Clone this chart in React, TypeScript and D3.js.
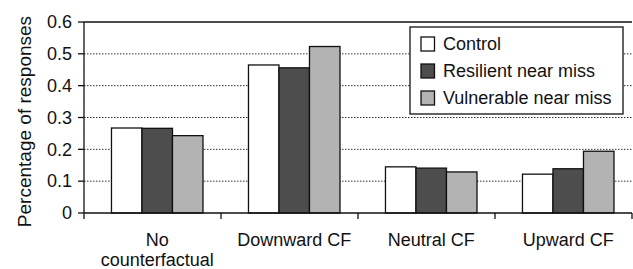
import { useMemo } from 'react';
import * as d3 from 'd3';

const categories = ['No counterfactual', 'Downward CF', 'Neutral CF', 'Upward CF'];
const categoryLines = [['No', 'counterfactual'], ['Downward CF'], ['Neutral CF'], ['Upward CF']];
const seriesNames = ['Control', 'Resilient near miss', 'Vulnerable near miss'];
const seriesColors = ['#ffffff', '#4d4d4d', '#b3b3b3'];

const control = [0.267, 0.465, 0.145, 0.122];
const resilient = [0.266, 0.456, 0.141, 0.139];
const vulnerable = [0.243, 0.523, 0.129, 0.194];
const seriesValues = [control, resilient, vulnerable];

const yTicks = [0, 0.1, 0.2, 0.3, 0.4, 0.5, 0.6];

const WIDTH = 633;
const HEIGHT = 269;
const margin = { top: 22, right: 1, bottom: 56, left: 84 };
const FONT = '"Liberation Sans", Arial, Helvetica, sans-serif';

export default function App() {
  const innerW = WIDTH - margin.left - margin.right;
  const innerH = HEIGHT - margin.top - margin.bottom;

  const { x, xGroup, xSeries, y } = useMemo(() => {
    const x = d3.scaleBand().domain(categories).range([0, innerW]).padding(0);
    const xGroup = d3
      .scaleBand()
      .domain(categories)
      .range([0, innerW])
      .paddingInner(0.332)
      .paddingOuter(0.166)
      .align(0.604);
    const xSeries = d3.scaleBand().domain(seriesNames).range([0, xGroup.bandwidth()]);
    const y = d3.scaleLinear().domain([0, 0.6]).range([innerH, 0]);
    return { x, xGroup, xSeries, y };
  }, [innerW, innerH]);

  const boundaries = categories.map((c) => x(c) as number).concat([innerW]);

  return (
    <svg
      width={WIDTH}
      height={HEIGHT}
      style={{ position: 'absolute', left: 0, top: 0, background: '#fff' }}
      fontFamily={FONT}
    >
      <g transform={`translate(${margin.left},${margin.top})`}>
        {/* dotted gridlines */}
        {yTicks.slice(1, -1).map((t) => (
          <line
            key={t}
            x1={0}
            x2={innerW}
            y1={y(t)}
            y2={y(t)}
            stroke="#333"
            strokeWidth={1}
            strokeDasharray="1.5,1.5"
          />
        ))}
        <line x1={0} x2={innerW} y1={y(0.6)} y2={y(0.6)} stroke="#111" strokeWidth={1.3} />

        {/* bars */}
        {categories.map((c, ci) => (
          <g key={c} transform={`translate(${xGroup(c)},0)`}>
            {seriesNames.map((s, si) => (
              <rect
                key={s}
                x={xSeries(s)}
                y={y(seriesValues[si][ci])}
                width={xSeries.bandwidth()}
                height={innerH - y(seriesValues[si][ci])}
                fill={seriesColors[si]}
                stroke="#111"
                strokeWidth={1.3}
              />
            ))}
          </g>
        ))}

        {/* axes */}
        <line x1={0} x2={0} y1={0} y2={innerH} stroke="#111" strokeWidth={1.3} />
        <line x1={0} x2={innerW} y1={innerH} y2={innerH} stroke="#111" strokeWidth={1.3} />
        {yTicks.map((t) => (
          <g key={t} transform={`translate(0,${y(t)})`}>
            <line x1={-6} x2={0} stroke="#111" strokeWidth={1.3} />
            <text x={-12} dy="0.35em" textAnchor="end" fontSize={18} fill="#111">
              {t === 0 ? '0' : d3.format('.1f')(t)}
            </text>
          </g>
        ))}
        {boundaries.map((b, i) => (
          <line key={i} x1={b} x2={b} y1={innerH} y2={innerH + 6} stroke="#111" strokeWidth={1.3} />
        ))}
        {categories.map((c, ci) => (
          <text
            key={c}
            x={(xGroup(c) as number) + xGroup.bandwidth() / 2}
            y={innerH + 33}
            textAnchor="middle"
            fontSize={18}
            fill="#111"
          >
            {categoryLines[ci].map((line, li) => (
              <tspan key={li} x={(xGroup(c) as number) + xGroup.bandwidth() / 2} dy={li === 0 ? 0 : 20}>
                {line}
              </tspan>
            ))}
          </text>
        ))}

        {/* legend */}
        <g transform={`translate(${326},${5})`}>
          <rect x={0} y={0} width={213} height={87} fill="#fff" stroke="#111" strokeWidth={1.3} />
          {seriesNames.map((s, si) => (
            <g key={s} transform={`translate(11,${17 + si * 27})`}>
              <rect x={0} y={-7} width={13.5} height={14} fill={seriesColors[si]} stroke="#111" strokeWidth={1.3} />
              <text x={22} dy="0.35em" fontSize={18} fill="#111">
                {s}
              </text>
            </g>
          ))}
        </g>
      </g>

      <text
        transform={`translate(24,${margin.top + innerH / 2 + 4}) rotate(-90)`}
        textAnchor="middle"
        dy="0.35em"
        fontSize={19}
        fill="#111"
      >
        Percentage of responses
      </text>
    </svg>
  );
}
